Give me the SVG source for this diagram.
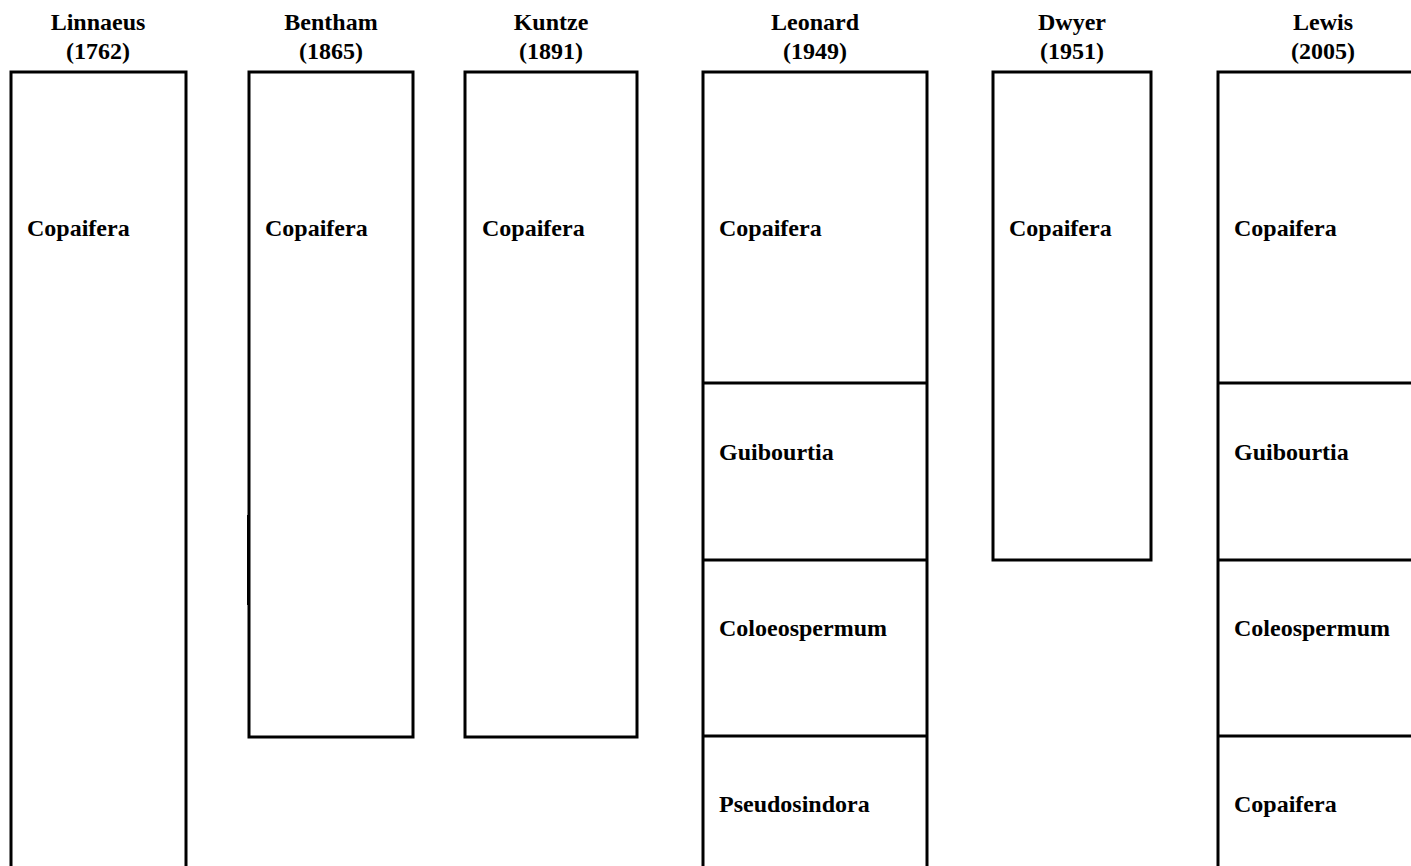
<svg xmlns="http://www.w3.org/2000/svg" width="1411" height="866" viewBox="0 0 1411 866">
<style>
.b{fill:#fff;stroke:#000;stroke-width:3}
.d{stroke:#000;stroke-width:3;fill:none}
text{font-family:"Liberation Serif","Times New Roman",serif;font-weight:bold;font-size:24px;fill:#000}
.h{text-anchor:middle}
</style>
<rect width="1411" height="866" fill="#fff"/>
<g id="linnaeus">
<text class="h" x="98" y="30">Linnaeus</text><text class="h" x="98" y="59">(1762)</text>
<rect class="b" x="11" y="72" width="175" height="820"/>
<text x="27" y="236">Copaifera</text>
</g>
<g id="bentham">
<text class="h" x="331" y="30">Bentham</text><text class="h" x="331" y="59">(1865)</text>
<rect class="b" x="249" y="72" width="164" height="665"/>
<line class="d" x1="248.5" y1="515" x2="248.5" y2="605"/>
<text x="265" y="236">Copaifera</text>
</g>
<g id="kuntze">
<text class="h" x="551" y="30">Kuntze</text><text class="h" x="551" y="59">(1891)</text>
<rect class="b" x="465" y="72" width="172" height="665"/>
<text x="482" y="236">Copaifera</text>
</g>
<g id="leonard">
<text class="h" x="815" y="30">Leonard</text><text class="h" x="815" y="59">(1949)</text>
<rect class="b" x="703" y="72" width="224" height="820"/>
<line class="d" x1="703" y1="383" x2="927" y2="383"/>
<line class="d" x1="703" y1="560" x2="927" y2="560"/>
<line class="d" x1="703" y1="736" x2="927" y2="736"/>
<text x="719" y="236">Copaifera</text>
<text x="719" y="460">Guibourtia</text>
<text x="719" y="636">Coloeospermum</text>
<text x="719" y="812">Pseudosindora</text>
</g>
<g id="dwyer">
<text class="h" x="1072" y="30">Dwyer</text><text class="h" x="1072" y="59">(1951)</text>
<rect class="b" x="993" y="72" width="158" height="488"/>
<text x="1009" y="236">Copaifera</text>
</g>
<g id="lewis">
<text class="h" x="1323" y="30">Lewis</text><text class="h" x="1323" y="59">(2005)</text>
<rect class="b" x="1218" y="72" width="240" height="820"/>
<line class="d" x1="1218" y1="383" x2="1411" y2="383"/>
<line class="d" x1="1218" y1="560" x2="1411" y2="560"/>
<line class="d" x1="1218" y1="736" x2="1411" y2="736"/>
<text x="1234" y="236">Copaifera</text>
<text x="1234" y="460">Guibourtia</text>
<text x="1234" y="636">Coleospermum</text>
<text x="1234" y="812">Copaifera</text>
</g>
<g id="connectors"/>
</svg>
